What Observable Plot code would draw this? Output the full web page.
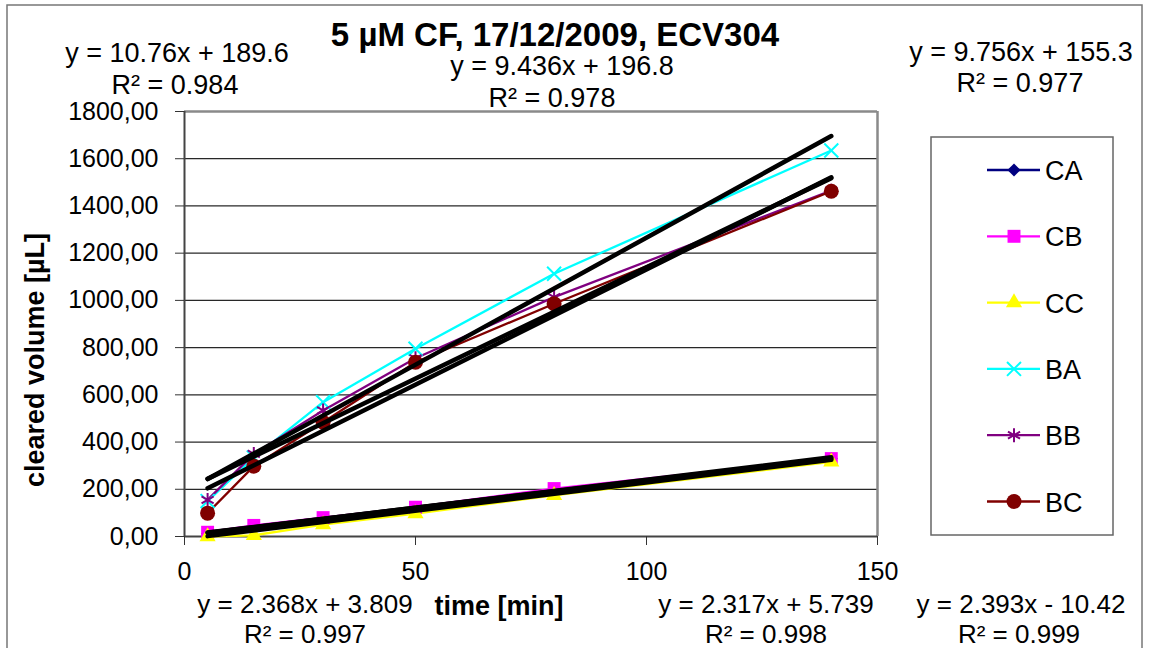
<!DOCTYPE html>
<html>
<head>
<meta charset="utf-8">
<script src="https://cdn.jsdelivr.net/npm/d3@7"></script>
<script src="https://cdn.jsdelivr.net/npm/@observablehq/plot@0.6"></script>
<style>
  html, body { margin: 0; padding: 0; background: #fff; }
  #chart { width: 1150px; height: 648px; overflow: hidden; }
</style>
</head>
<body>
<div id="chart"></div>
<script>
// ---- data ----
const time = [5, 15, 30, 50, 80, 140];
const seriesNames = ["CA", "CB", "CC", "BA", "BB", "BC"];
const CA = [12, 40, 72, 120, 195, 330];
const CB = [18, 47, 80, 124, 203, 330];
const CC = [0, 5, 50, 97, 174, 316];
const BA = [150, 335, 569, 795, 1113, 1635];
const BB = [155, 350, 534, 755, 1014, 1465];
const BC = [99, 298, 484, 738, 986, 1462];
const seriesColors = ["#000080", "#FF00FF", "#FFFF00", "#00FFFF", "#800080", "#800000"];
const seriesSymbols = ["diamond2", "square", "triangle", "times", "asterisk", "circle"];
const symbolFilled = [true, true, true, false, false, true];
const symbolR = [5.9, 7.3, 6.0, 6.4, 6.6, 7.5];
// linear trendlines (slope, intercept) shown on the chart
const fitSeries = ["BA", "BB", "BC", "CB", "CA", "CC"];
const fitSlope = [10.76, 9.436, 9.756, 2.368, 2.317, 2.393];
const fitIntercept = [189.6, 196.8, 155.3, 3.809, 5.739, -10.42];
const fitR2 = ["0.984", "0.978", "0.977", "0.997", "0.998", "0.999"];
const yTicks = [0, 200, 400, 600, 800, 1000, 1200, 1400, 1600, 1800];
const xTicks = [0, 50, 100, 150];
const title = "5 µM CF, 17/12/2009, ECV304";
const xLabel = "time [min]";
const yLabel = "cleared volume [µL]";

const values = {CA, CB, CC, BA, BB, BC};
const rows = seriesNames.flatMap((s, i) => time.map((t, j) => ({series: s, idx: i, time: t, value: values[s][j]})));
const trend = fitSeries.flatMap((s, i) => [time[0], time[time.length - 1]].map(t => ({series: s, time: t, value: fitSlope[i] * t + fitIntercept[i]})));

const FONT = "'Liberation Sans', Arial, Helvetica, sans-serif";
const marks = [
  Plot.gridY(yTicks, {stroke: "#111", strokeOpacity: 0.9, strokeWidth: 1.2}),
  Plot.ruleY([1800], {stroke: "#8a8a8a", strokeWidth: 2.5}),
  Plot.ruleX([150], {stroke: "#8a8a8a", strokeWidth: 2.5}),
  Plot.ruleX([0], {stroke: "#444", strokeWidth: 2}),
  Plot.ruleY([0], {stroke: "#444", strokeWidth: 2}),
  Plot.axisY({ticks: yTicks, tickFormat: d => d.toFixed(2).replace(".", ","), tickSize: 9, tickPadding: 17, fontSize: 25, fill: "#000", stroke: "#333", label: null}),
  Plot.axisX({ticks: xTicks, tickFormat: d => String(d), tickSize: 9, tickPadding: 17, fontSize: 25, fill: "#000", stroke: "#333", label: null})
];
seriesNames.forEach((s, i) => {
  const d = rows.filter(r => r.series === s);
  marks.push(Plot.line(d, {x: "time", y: "value", stroke: seriesColors[i], strokeWidth: 2.3}));
});
seriesNames.forEach((s, i) => {
  const d = rows.filter(r => r.series === s);
  const opts = {x: "time", y: "value", symbol: () => seriesSymbols[i], r: symbolR[i]};
  if (symbolFilled[i]) { opts.fill = seriesColors[i]; opts.stroke = "none"; }
  else { opts.stroke = seriesColors[i]; opts.fill = "none"; opts.strokeWidth = 2; }
  marks.push(Plot.dot(d, opts));
});
fitSeries.forEach(s => {
  marks.push(Plot.line(trend.filter(r => r.series === s), {x: "time", y: "value", stroke: "#000", strokeWidth: 4.5}));
});

const svg = Plot.plot({
  width: 1150, height: 648,
  marginLeft: 184, marginRight: 273, marginTop: 111, marginBottom: 112,
  x: {domain: [0, 150]},
  y: {domain: [0, 1800]},
  style: {fontFamily: FONT, fontSize: "25px", background: "#fff", color: "#000", overflow: "visible"},
  marks
});
document.getElementById("chart").appendChild(svg);

// ---- annotations ----
const g = d3.select(svg).append("g").attr("font-family", FONT).attr("fill", "#000");
d3.select(svg).insert("rect", ":first-child").attr("x", 7).attr("y", 5).attr("width", 1135).attr("height", 660)
  .attr("fill", "none").attr("stroke", "#777").attr("stroke-width", 1.5);

g.append("text").attr("x", 555).attr("y", 46).attr("text-anchor", "middle").attr("font-size", 33).attr("font-weight", "bold").text(title);
g.append("text").attr("x", 499).attr("y", 615).attr("text-anchor", "middle").attr("font-size", 27).attr("font-weight", "bold").text(xLabel);
g.append("text").attr("transform", "translate(44,360) rotate(-90)").attr("text-anchor", "middle").attr("font-size", 27).attr("font-weight", "bold").text(yLabel);

const fmtEq = i => "y = " + fitSlope[i] + "x " + (fitIntercept[i] < 0 ? "- " : "+ ") + Math.abs(fitIntercept[i]);
const labelPos = [
  {cx: 177, y1: 62, cx2: 175, y2: 94},   // BA
  {cx: 562, y1: 75, cx2: 552, y2: 107},  // BB
  {cx: 1021, y1: 61, cx2: 1020, y2: 92}, // BC
  {cx: 305, y1: 613, cx2: 305, y2: 643}, // CB
  {cx: 766, y1: 613, cx2: 766, y2: 643}, // CA
  {cx: 1021, y1: 613, cx2: 1019, y2: 643} // CC
];
fitSeries.forEach((s, i) => {
  const p = labelPos[i];
  const fs = i >= 3 ? 26 : 27;
  g.append("text").attr("x", p.cx).attr("y", p.y1).attr("text-anchor", "middle").attr("font-size", fs).text(fmtEq(i));
  g.append("text").attr("x", p.cx2).attr("y", p.y2).attr("text-anchor", "middle").attr("font-size", fs).text("R² = " + fitR2[i]);
});

// legend
const lg = g.append("g");
lg.append("rect").attr("x", 931).attr("y", 137).attr("width", 182).attr("height", 398).attr("fill", "#fff").attr("stroke", "#666").attr("stroke-width", 1.5);
const symMap = {diamond2: d3.symbolDiamond2, square: d3.symbolSquare, triangle: d3.symbolTriangle, times: d3.symbolTimes, asterisk: d3.symbolAsterisk, circle: d3.symbolCircle};
seriesNames.forEach((s, i) => {
  const cy = 170 + i * 66.3;
  lg.append("line").attr("x1", 987).attr("x2", 1040).attr("y1", cy).attr("y2", cy).attr("stroke", seriesColors[i]).attr("stroke-width", 2.3);
  const path = lg.append("path").attr("transform", `translate(1014,${cy})`)
    .attr("d", d3.symbol(symMap[seriesSymbols[i]], Math.PI * symbolR[i] * symbolR[i])());
  if (symbolFilled[i]) path.attr("fill", seriesColors[i]);
  else path.attr("fill", "none").attr("stroke", seriesColors[i]).attr("stroke-width", 2);
  lg.append("text").attr("x", 1045).attr("y", cy + 10).attr("text-anchor", "start").attr("font-size", 27).text(s);
});
</script>
</body>
</html>
